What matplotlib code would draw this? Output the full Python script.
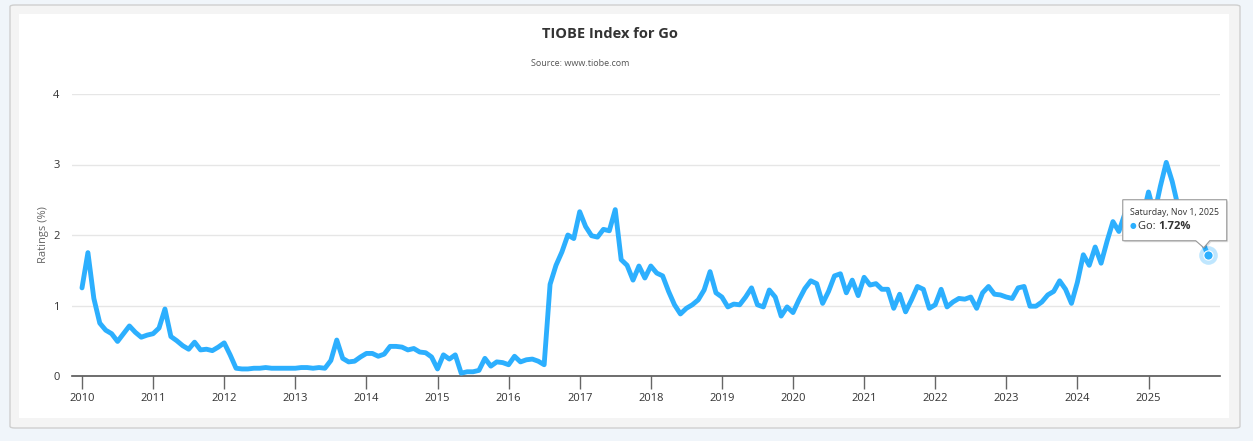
import numpy as np
import matplotlib
matplotlib.use("Agg")
import matplotlib.pyplot as plt
from matplotlib.patches import FancyBboxPatch, Rectangle, Polygon
from matplotlib.transforms import IdentityTransform

plt.rcParams['font.family'] = ['Open Sans', 'DejaVu Sans']

# monthly TIOBE ratings for Go (%), Jan 2010 .. Nov 2025
go_2010 = [1.25, 1.75, 1.10, 0.75, 0.65, 0.60, 0.49, 0.60, 0.71, 0.62, 0.55, 0.58]
go_2011 = [0.60, 0.68, 0.95, 0.56, 0.50, 0.43, 0.38, 0.48, 0.37, 0.38, 0.36, 0.41]
go_2012 = [0.47, 0.30, 0.11, 0.10, 0.10, 0.11, 0.11, 0.12, 0.11, 0.11, 0.11, 0.11]
go_2013 = [0.11, 0.12, 0.12, 0.11, 0.12, 0.11, 0.22, 0.51, 0.25, 0.20, 0.21, 0.27]
go_2014 = [0.32, 0.32, 0.28, 0.31, 0.42, 0.42, 0.41, 0.37, 0.39, 0.34, 0.33, 0.27]
go_2015 = [0.10, 0.30, 0.24, 0.30, 0.04, 0.06, 0.06, 0.08, 0.25, 0.14, 0.20, 0.19]
go_2016 = [0.16, 0.28, 0.20, 0.23, 0.24, 0.21, 0.16, 1.30, 1.57, 1.76, 2.00, 1.95]
go_2017 = [2.33, 2.12, 1.99, 1.97, 2.08, 2.06, 2.36, 1.65, 1.57, 1.36, 1.56, 1.39]
go_2018 = [1.56, 1.46, 1.42, 1.20, 1.01, 0.88, 0.96, 1.01, 1.08, 1.22, 1.48, 1.18]
go_2019 = [1.12, 0.98, 1.02, 1.01, 1.12, 1.25, 1.01, 0.98, 1.22, 1.12, 0.85, 0.98]
go_2020 = [0.90, 1.08, 1.24, 1.35, 1.31, 1.03, 1.20, 1.42, 1.45, 1.18, 1.36, 1.14]
go_2021 = [1.40, 1.29, 1.31, 1.23, 1.23, 0.96, 1.16, 0.91, 1.08, 1.27, 1.23, 0.96]
go_2022 = [1.01, 1.23, 0.98, 1.05, 1.10, 1.09, 1.12, 0.96, 1.18, 1.27, 1.16, 1.15]
go_2023 = [1.12, 1.10, 1.25, 1.27, 0.99, 0.99, 1.05, 1.15, 1.20, 1.35, 1.23, 1.03]
go_2024 = [1.33, 1.72, 1.57, 1.83, 1.60, 1.91, 2.19, 2.05, 2.30, 2.20, 2.35, 2.25]
go_2025 = [2.61, 2.30, 2.69, 3.03, 2.76, 2.40, 2.20, 2.15, 2.05, 1.93, 1.72]

ratings = (go_2010 + go_2011 + go_2012 + go_2013 + go_2014 + go_2015 + go_2016 + go_2017
           + go_2018 + go_2019 + go_2020 + go_2021 + go_2022 + go_2023 + go_2024 + go_2025)
start_year = 2010
years = np.array([start_year + i / 12 for i in range(len(ratings))])
year_ticks = list(range(2010, 2026))
y_ticks = [0, 1, 2, 3, 4]

LINE = '#2caffe'

W, H = 1253, 441
fig = plt.figure(figsize=(W / 100, H / 100), dpi=100)
fig.patch.set_facecolor('#f0f5fa')

# card + white chart area (kept behind the axes)
card = FancyBboxPatch((10 / W, 1 - 428 / H), 1230 / W, 423 / H,
                      boxstyle="round,pad=0,rounding_size=0.004",
                      transform=fig.transFigure, facecolor='#f4f4f4',
                      edgecolor='#cfcfcf', linewidth=1.0, zorder=-2)
fig.patches.append(card)
inner = Rectangle((19 / W, 1 - 418 / H), 1210 / W, 404 / H,
                  transform=fig.transFigure, facecolor='white', edgecolor='none',
                  zorder=-1)
fig.patches.append(inner)

ax = fig.add_axes([72 / W, 1 - 376 / H, 1148 / W, 282 / H])
ax.set_facecolor('none')
ax.plot(years, ratings, color=LINE, linewidth=3.5, solid_joinstyle='round',
        solid_capstyle='round', zorder=3)

ax.set_xlim(2010 - 10 / 71.1, 2010 + 1138 / 71.1)
ax.set_ylim(0, 4)
ax.set_xticks(year_ticks)
ax.set_xticklabels([str(y) for y in year_ticks], fontsize=8, color='#333333')
ax.set_yticks(y_ticks)
ax.set_yticklabels([str(v) for v in y_ticks], fontsize=8, color='#333333')
ax.tick_params(axis='x', length=9, width=1, color='#666666', pad=3)
ax.tick_params(axis='y', length=0, pad=9)
ax.grid(axis='y', color='#e6e6e6', linewidth=1)
ax.set_axisbelow(True)
for s in ['top', 'right', 'left']:
    ax.spines[s].set_visible(False)
ax.spines['bottom'].set_color('#555555')
ax.spines['bottom'].set_linewidth(1.2)
ax.set_ylabel('Ratings (%)', fontsize=8, color='#666666', labelpad=3)

fig.text(610 / W, 1 - 34 / H, 'TIOBE Index for Go', ha='center', va='center',
         fontsize=10.5, fontweight='bold', color='#333333')
fig.text(580 / W, 1 - 64 / H, 'Source: www.tiobe.com', ha='center', va='center',
         fontsize=6.5, color='#555555')

# hovered last point with tooltip
ax.scatter([years[-1]], [ratings[-1]], s=180, color=LINE, alpha=0.3,
           linewidths=0, zorder=4)
ax.scatter([years[-1]], [ratings[-1]], s=45, color=LINE, edgecolors='white',
           linewidths=0.8, zorder=5)

fig.canvas.draw()
px, py = ax.transData.transform((years[-1], ratings[-1]))
ident = IdentityTransform()
left, right = px - 85, px + 19
bottom, top = py + 14, py + 55
callout = [(left, bottom), (px - 12, bottom), (px - 4, py + 7), (px + 2, bottom),
           (right, bottom), (right, top), (left, top)]
shadow = Polygon([(x + 1.5, y - 1.5) for x, y in callout], closed=True,
                 transform=ident, facecolor='#000000', alpha=0.12,
                 edgecolor='none', zorder=10)
fig.patches.append(shadow)
box = Polygon(callout, closed=True, transform=ident, facecolor='white',
              edgecolor='#999999', linewidth=0.8, zorder=11)
fig.patches.append(box)
fig.text(left + 7, top - 13, 'Saturday, Nov 1, 2025', transform=ident,
         fontsize=6.3, color='#333333', va='center', zorder=12)
fig.text(left + 7, top - 27, '\u25cf', transform=ident, fontsize=5.5,
         color=LINE, va='center', zorder=12)
t1 = fig.text(left + 15, top - 27, 'Go: ', transform=ident, fontsize=8,
              color='#333333', va='center', zorder=12)
fig.canvas.draw()
bb = t1.get_window_extent()
fig.text(bb.x1, top - 27, f'{ratings[-1]:.2f}%', transform=ident, fontsize=8,
         fontweight='bold', color='#333333', va='center', zorder=12)

fig.savefig('out.png', dpi=100, facecolor=fig.get_facecolor())
